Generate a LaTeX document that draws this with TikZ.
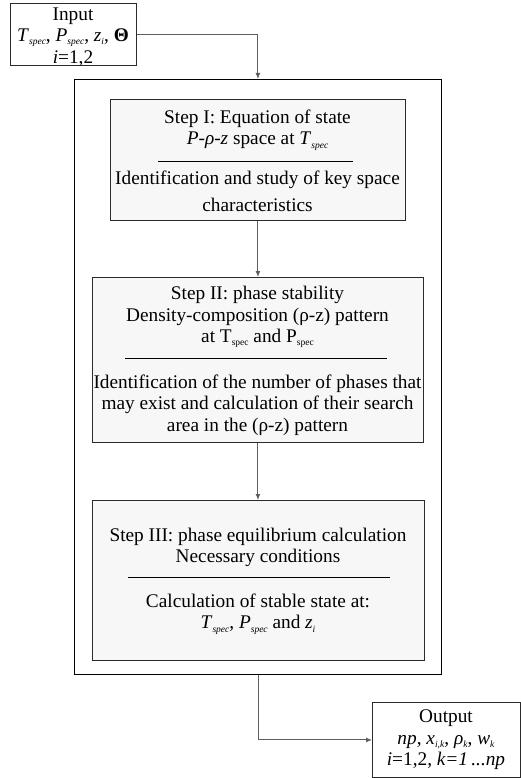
\documentclass[tikz,border=0pt]{standalone}
\usepackage{fontspec}
\setmainfont{Liberation Serif}
\usetikzlibrary{positioning,arrows.meta}
\definecolor{frameink}{HTML}{2B2B2B}
\definecolor{wireink}{HTML}{5E5E5E}
\definecolor{stepfill}{HTML}{F7F7F7}
\newcommand{\lowtxt}[1]{\raisebox{-0.35ex}{\fontsize{9.5}{9.5}\selectfont #1}}
\tikzset{
  >={Latex[length=6pt,width=5pt]},
  every node/.style={font=\fontsize{19.3}{21.5}\selectfont},
  % --- boxes
  iobox/.style   = {draw=frameink, line width=0.9pt, fill=white, anchor=north west},
  stepbox/.style = {draw=frameink, line width=0.9pt, fill=stepfill, anchor=north west},
  framebox/.style= {draw=black, line width=1pt, anchor=north west},
  txt/.style     = {align=center, inner sep=0pt},
  % --- lines
  sep/.style     = {line width=0.7pt, draw=black},
  wire/.style    = {->, line width=1pt, draw=wireink},
}
\begin{document}
\begin{tikzpicture}[x=1pt,y=-1pt]
  \useasboundingbox (0,0) rectangle (521,778);

  % outer frame and the three steps
  \node[framebox, minimum width=367pt, minimum height=595pt] (frame) at (74,79) {};
  \node[stepbox, minimum width=295pt, minimum height=121pt] (stepI) at (110,99) {};
  \node[stepbox, minimum width=331pt, minimum height=165pt] (stepII) at (92,277) {};
  \node[stepbox, minimum width=332pt, minimum height=160pt] (stepIII) at (92,500) {};

  % input / output
  \node[iobox, minimum width=126pt, minimum height=62pt] (input) at (10,3) {};
  \node[iobox, minimum width=148pt, minimum height=75pt] (output) at (372,702) {};

  \node[txt] (inputtxt) at (73,37)
    {Input\\ \textit{T}\lowtxt{\textit{spec}}, \textit{P}\lowtxt{\textit{spec}}, \textit{z}\lowtxt{\textit{i}}, \textbf{Θ}\\ \textit{i}=1,2};
  \node[txt] (outputtxt) at (446,740)
    {Output\\ \textit{np}, \textit{x}\lowtxt{\textit{i,k}}, \textit{ρ}\lowtxt{\textit{k}}, \textit{w}\lowtxt{\textit{k}}\\ \textit{i}=1,2, \textit{k=1\,...np}};

  % step I
  \node[txt] (stepIhead) at (257.5,130)
    {Step I: Equation of state\\ \textit{P-ρ-z} space at \textit{T}\lowtxt{\textit{spec}}};
  \draw[sep] (158,161) -- (353,161);
  \node[txt] (stepIbody) at (257.5,191.5)
    {Identification and study of key space\\[5pt] characteristics};

  % step II
  \node[txt] (stepIIhead) at (257.5,317)
    {Step II: phase stability\\ Density-composition (ρ-z) pattern\\ at T\lowtxt{spec} and P\lowtxt{spec}};
  \draw[sep] (125,358) -- (387,358);
  \node[txt] (stepIIbody) at (257.5,405)
    {Identification of the number of phases that\\ may exist and calculation of their search\\ area in the (ρ-z) pattern};

  % step III
  \node[txt] (stepIIIhead) at (258,547.5)
    {Step III: phase equilibrium calculation\\ Necessary conditions};
  \draw[sep] (128,577) -- (390,577);
  \node[txt] (stepIIIbody) at (258,614)
    {Calculation of stable state at:\\ \textit{T}\lowtxt{\textit{spec}}, \textit{P}\lowtxt{\textit{spec}} and \textit{z}\lowtxt{\textit{i}}};

  % connectors
  \draw[wire] (input.east) -| (frame.north -| stepI.south);
  \draw[wire] (stepI.south) -- (stepI.south |- stepII.north);
  \draw[wire] (stepII.south) -- (stepII.south |- stepIII.north);
  \draw[wire] (frame.south -| stepIII.south) |- (output.west);
\end{tikzpicture}
\end{document}
